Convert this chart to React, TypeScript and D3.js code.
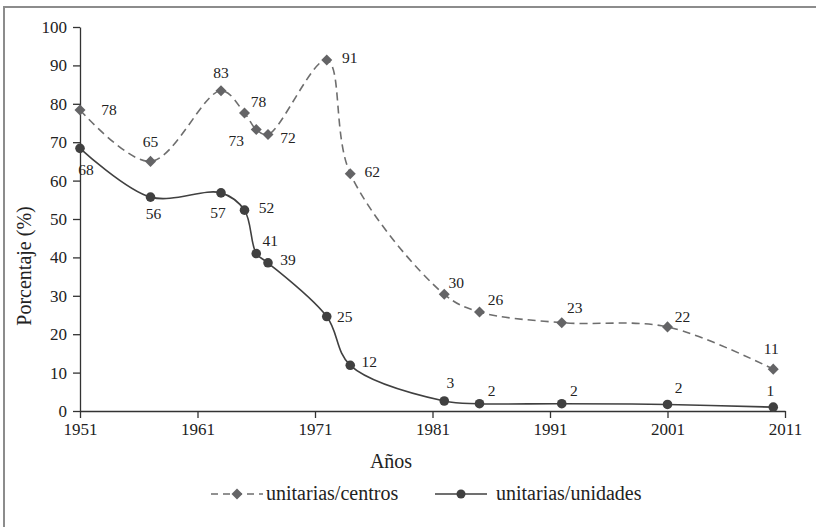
import React, { useEffect, useRef } from 'react'
import * as d3 from 'd3'

// años de cada observación
const years = [1951, 1957, 1963, 1965, 1966, 1967, 1972, 1974, 1982, 1985, 1992, 2001, 2010]
// % escuelas unitarias sobre centros
const centros = [78.4, 65, 83.4, 77.6, 73.3, 72, 91.4, 61.8, 30.4, 25.8, 23, 21.9, 10.9]
// % escuelas unitarias sobre unidades
const unidades = [68.4, 55.7, 56.8, 52.3, 41, 38.6, 24.6, 11.9, 2.6, 1.9, 1.9, 1.7, 1.0]
const xTicks = [1951, 1961, 1971, 1981, 1991, 2001, 2011]
const yTicks = [0, 10, 20, 30, 40, 50, 60, 70, 80, 90, 100]
const seriesNames = ['unitarias/centros', 'unitarias/unidades']

// where each value label sits relative to its point (px)
const centrosLabelOffsets = [
  [29, 0], [0, -20], [0, -18], [14, -11], [-20, 11], [20, 3], [23, -2],
  [22, -2], [12, -12], [16, -12], [13, -15], [15, -10], [-2, -21]
]
const unidadesLabelOffsets = [
  [6, 21], [3, 16], [-3, 20], [22, -3], [14, -13], [20, -3], [18, 0],
  [19, -4], [6, -18], [12, -13], [12, -13], [11, -17], [-3, -17]
]

const FONT = '"Liberation Serif", "DejaVu Serif", serif'
const DIAMOND = '#646466'
const DOT = '#404040'

const App = () => {
  const ref = useRef<SVGSVGElement>(null)

  useEffect(() => {
    const svg = d3.select(ref.current)
    svg.selectAll('*').remove()

    const x = d3.scaleLinear().domain([1951, 2011]).range([80, 785])
    const y = d3.scaleLinear().domain([0, 100]).range([411, 27])

    // outer frame (runs off the right and bottom edges)
    svg.append('rect')
      .attr('x', 4).attr('y', 7).attr('width', 830).attr('height', 540)
      .attr('fill', '#fff').attr('stroke', '#8c8c8c').attr('stroke-width', 2)

    // axes
    const xAxis = d3.axisBottom(x).tickValues(xTicks).tickFormat(d3.format('d')).tickSize(7).tickSizeOuter(0)
    const yAxis = d3.axisLeft(y).tickValues(yTicks).tickSize(7).tickSizeOuter(0)

    const gx = svg.append('g').attr('transform', 'translate(0,' + y(0) + ')').call(xAxis)
    const gy = svg.append('g').attr('transform', 'translate(' + x(1951) + ',0)').call(yAxis)
    ;[gx, gy].forEach((g) => {
      g.select('.domain').attr('stroke', '#333').attr('stroke-width', 1.3)
      g.selectAll('.tick line').attr('stroke', '#333').attr('stroke-width', 1.3)
      g.selectAll('.tick text')
        .attr('fill', '#222')
        .style('font-family', FONT)
        .style('font-size', '17px')
    })
    gx.selectAll('.tick text').attr('y', 12)
    gy.selectAll('.tick text').attr('x', -13)

    // axis titles
    svg.append('text')
      .attr('x', 391).attr('y', 468)
      .attr('text-anchor', 'middle')
      .attr('fill', '#222')
      .style('font-family', FONT).style('font-size', '20px')
      .text('Años')

    svg.append('text')
      .attr('transform', 'translate(31,266) rotate(-90)')
      .attr('text-anchor', 'middle')
      .attr('fill', '#222')
      .style('font-family', FONT).style('font-size', '20px')
      .text('Porcentaje (%)')

    const line = (vals: number[]) => d3.line<number>()
      .x((d, i) => x(years[i]))
      .y((d) => y(d))
      .curve(d3.curveCatmullRom.alpha(0.5))(vals)

    // dashed series with diamonds
    svg.append('path')
      .attr('d', line(centros))
      .attr('fill', 'none')
      .attr('stroke', '#6e6e6e')
      .attr('stroke-width', 1.6)
      .attr('stroke-dasharray', '8,5')

    // solid series with dots
    svg.append('path')
      .attr('d', line(unidades))
      .attr('fill', 'none')
      .attr('stroke', DOT)
      .attr('stroke-width', 1.6)

    const diamond = d3.symbol().type(d3.symbolDiamond2).size(78)

    svg.append('g').selectAll('path')
      .data(centros)
      .enter()
      .append('path')
      .attr('d', diamond)
      .attr('transform', (d, i) => 'translate(' + x(years[i]) + ',' + y(d) + ')')
      .attr('fill', DIAMOND)

    svg.append('g').selectAll('circle')
      .data(unidades)
      .enter()
      .append('circle')
      .attr('cx', (d, i) => x(years[i]))
      .attr('cy', (d) => y(d))
      .attr('r', 4.8)
      .attr('fill', DOT)

    // value labels
    const labels = (vals: number[], offsets: number[][]) => {
      svg.append('g').selectAll('text')
        .data(vals)
        .enter()
        .append('text')
        .attr('x', (d, i) => x(years[i]) + offsets[i][0])
        .attr('y', (d, i) => y(d) + offsets[i][1])
        .attr('dy', '0.35em')
        .attr('text-anchor', 'middle')
        .attr('fill', '#222')
        .style('font-family', FONT).style('font-size', '15.5px')
        .text((d) => Math.round(d))
    }
    labels(centros, centrosLabelOffsets)
    labels(unidades, unidadesLabelOffsets)

    // legend
    const lg = svg.append('g').attr('transform', 'translate(0,494)')
    lg.append('line')
      .attr('x1', 211).attr('x2', 263).attr('y1', 0).attr('y2', 0)
      .attr('stroke', '#6e6e6e').attr('stroke-width', 1.6).attr('stroke-dasharray', '7,5')
    lg.append('path').attr('d', diamond).attr('transform', 'translate(237,0)').attr('fill', DIAMOND)
    lg.append('text')
      .attr('x', 266).attr('dy', '0.32em')
      .attr('fill', '#222')
      .style('font-family', FONT).style('font-size', '20px')
      .text(seriesNames[0])

    lg.append('line')
      .attr('x1', 435).attr('x2', 487).attr('y1', 0).attr('y2', 0)
      .attr('stroke', DOT).attr('stroke-width', 1.6)
    lg.append('circle').attr('cx', 461).attr('cy', 0).attr('r', 4.5).attr('fill', DOT)
    lg.append('text')
      .attr('x', 496).attr('dy', '0.32em')
      .attr('fill', '#222')
      .style('font-family', FONT).style('font-size', '20px')
      .text(seriesNames[1])
  }, [])

  return (
    <svg
      ref={ref}
      width={816}
      height={527}
      style={{ position: 'absolute', left: 0, top: 0, background: '#fff' }}
    />
  )
}

export default App
